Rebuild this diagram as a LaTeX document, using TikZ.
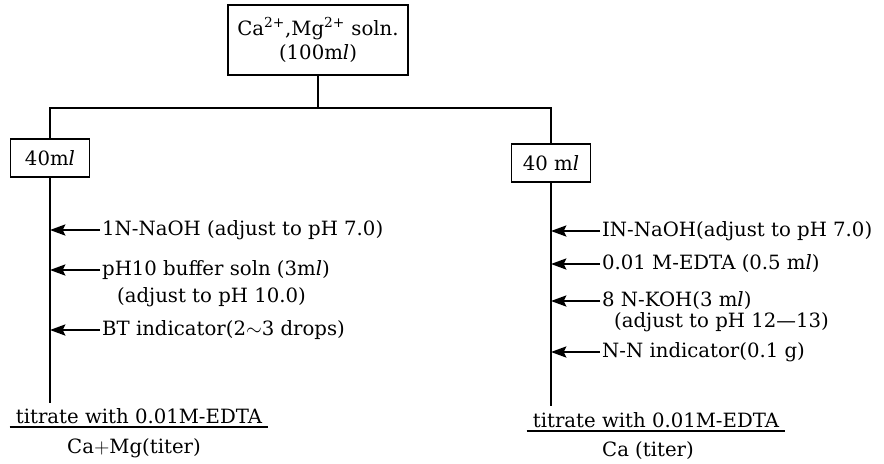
\documentclass[tikz,border=0pt]{standalone}
\usepackage{fontspec}
\setmainfont{DejaVu Serif}
\usetikzlibrary{arrows.meta,positioning}

\begin{document}
\begin{tikzpicture}[x=0.025cm, y=-0.025cm, line width=1.1pt,
  font=\fontsize{14}{17}\selectfont,
  volbox/.style={draw, minimum width=56pt, minimum height=27pt, inner sep=2pt},
  reagent/.style={anchor=west, inner sep=1pt},
  addarrow/.style={-{Stealth[length=11pt,width=8pt,inset=2pt]}},
  result/.style={inner xsep=4pt, inner ysep=2pt}]
\useasboundingbox (0,0) rectangle (884,463);

% sample, split into two portions
\node[draw, align=center, minimum width=128pt, minimum height=50pt] (sample) at (318,40)
  {Ca\textsuperscript{2+},Mg\textsuperscript{2+} soln.\\(100m\textit{l})};
\coordinate (split) at (318,108);
\node[volbox] (lvol) at (50,158) {40m\textit{l}};
\node[volbox] (rvol) at (551,163) {40 m\textit{l}};
\draw (sample) -- (split);
\draw (lvol) |- (split) -| (rvol);
\coordinate (lend) at (50,403);
\coordinate (rend) at (551,406);
\draw (lvol) -- (lend);
\draw (rvol) -- (rend);

% Ca+Mg branch
\node[reagent] (lnaoh) at (100,230) {1N-NaOH (adjust to pH 7.0)};
\node[reagent] (lbuf) at (100,270) {pH10 buffer soln (3m\textit{l})};
\node[reagent] (lbufph) at (115,297) {(adjust to pH 10.0)};
\node[reagent] (lbt) at (100,330) {BT indicator(2$\sim$3 drops)};
\foreach \r in {lnaoh,lbuf,lbt}
  \draw[addarrow] (\r.west) -- (\r.west -| lend);

% Ca branch
\node[reagent] (rnaoh) at (600,231) {IN-NaOH(adjust to pH 7.0)};
\node[reagent] (redta) at (600,264) {0.01 M-EDTA (0.5 m\textit{l})};
\node[reagent] (rkoh) at (600,301) {8 N-KOH(3 m\textit{l})};
\node[reagent] (rkohph) at (612,322) {(adjust to pH 12---13)};
\node[reagent] (rnn) at (600,352) {N-N indicator(0.1 g)};
\foreach \r in {rnaoh,redta,rkoh,rnn}
  \draw[addarrow] (\r.west) -- (\r.west -| rend);

% titration results
\node[result] (ltitr) at (139,416) {titrate with 0.01M-EDTA};
\draw (ltitr.south west) -- (ltitr.south east);
\node (lres) at (134,448) {Ca$+$Mg(titer)};
\node[result] (rtitr) at (656,420) {titrate with 0.01M-EDTA};
\draw (rtitr.south west) -- (rtitr.south east);
\node (rres) at (648,451) {Ca (titer)};
\end{tikzpicture}
\end{document}
